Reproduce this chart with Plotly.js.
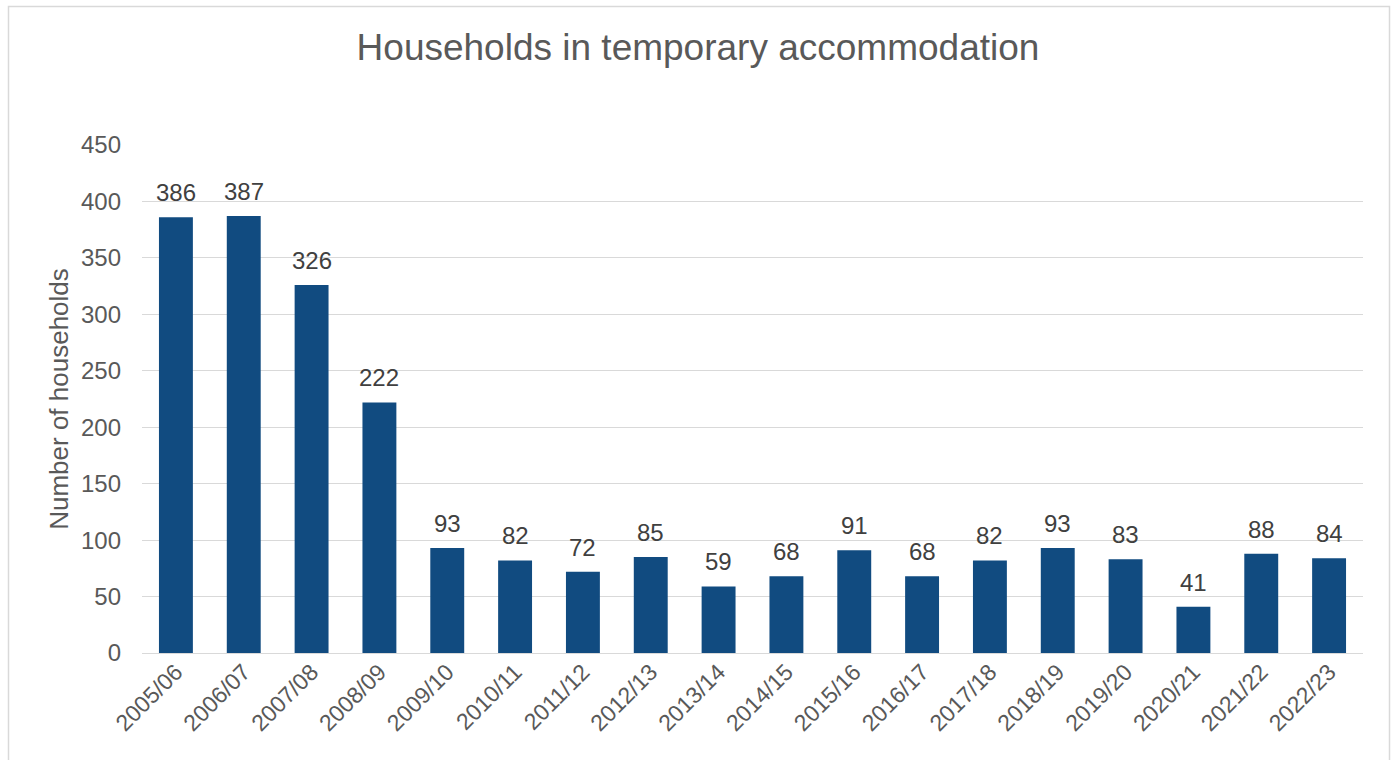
<!DOCTYPE html>
<html><head><meta charset="utf-8">
<script src="https://cdn.plot.ly/plotly-3.0.1.min.js"></script>
<style>html,body{margin:0;padding:0;background:#fff}#chart{width:1396px;height:760px}</style>
</head><body><div id="chart"></div>
<script>
const categories = ["2005/06","2006/07","2007/08","2008/09","2009/10","2010/11","2011/12","2012/13","2013/14","2014/15","2015/16","2016/17","2017/18","2018/19","2019/20","2020/21","2021/22","2022/23"];
const households = [386,387,326,222,93,82,72,85,59,68,91,68,82,93,83,41,88,84];
const yTicks = [0,50,100,150,200,250,300,350,400,450];

const W = 1396, H = 760;
const m = {l:142, r:33, t:145, b:107};
const pw = W - m.l - m.r, ph = H - m.t - m.b;
function px(x){return (x - m.l)/pw;}
function py(y){return (H - m.b - y)/ph;}

const font = "Liberation Sans, Arial, sans-serif";
const labels = categories.map((c,i)=>({
  x:c, y:households[i], xref:'x', yref:'y', text:String(households[i]),
  showarrow:false, yanchor:'bottom', yshift:9,
  font:{family:font,size:24,color:'#404040'}
}));
Plotly.newPlot('chart', [{
  type:'bar', x:categories, y:households,
  marker:{color:'#114b80'},
  hoverinfo:'x+y'
}], {
  width:W, height:H, margin:m, paper_bgcolor:'#fff', plot_bgcolor:'#fff',
  bargap:0.5, showlegend:false,
  title:{text:'Households in temporary accommodation', font:{family:font,size:37,color:'#595959'}, x:0.5, xanchor:'center', y:1-47/H, yanchor:'middle'},
  xaxis:{tickangle:-45, tickfont:{family:font,size:23,color:'#595959'}, showgrid:false, showline:false, ticks:'', fixedrange:true},
  yaxis:{range:[0,450], tickvals:yTicks, ticktext:yTicks.map(String), tickfont:{family:font,size:24,color:'#595959'},
         gridcolor:'#d9d9d9', gridwidth:1, zeroline:true, zerolinecolor:'#d9d9d9', zerolinewidth:1, showline:false, ticks:'', ticklabelstandoff:20,
         title:{text:'Number of households', font:{family:font,size:26,color:'#595959'}, standoff:4}},
  annotations:labels,
  shapes:[{type:'rect', xref:'paper', yref:'paper', x0:px(8.5), x1:px(1389.5), y0:py(6.5), y1:py(775), line:{color:'#d9d9d9',width:1.5}, fillcolor:'rgba(0,0,0,0)', layer:'below'}]
}, {staticPlot:true});
</script></body></html>
